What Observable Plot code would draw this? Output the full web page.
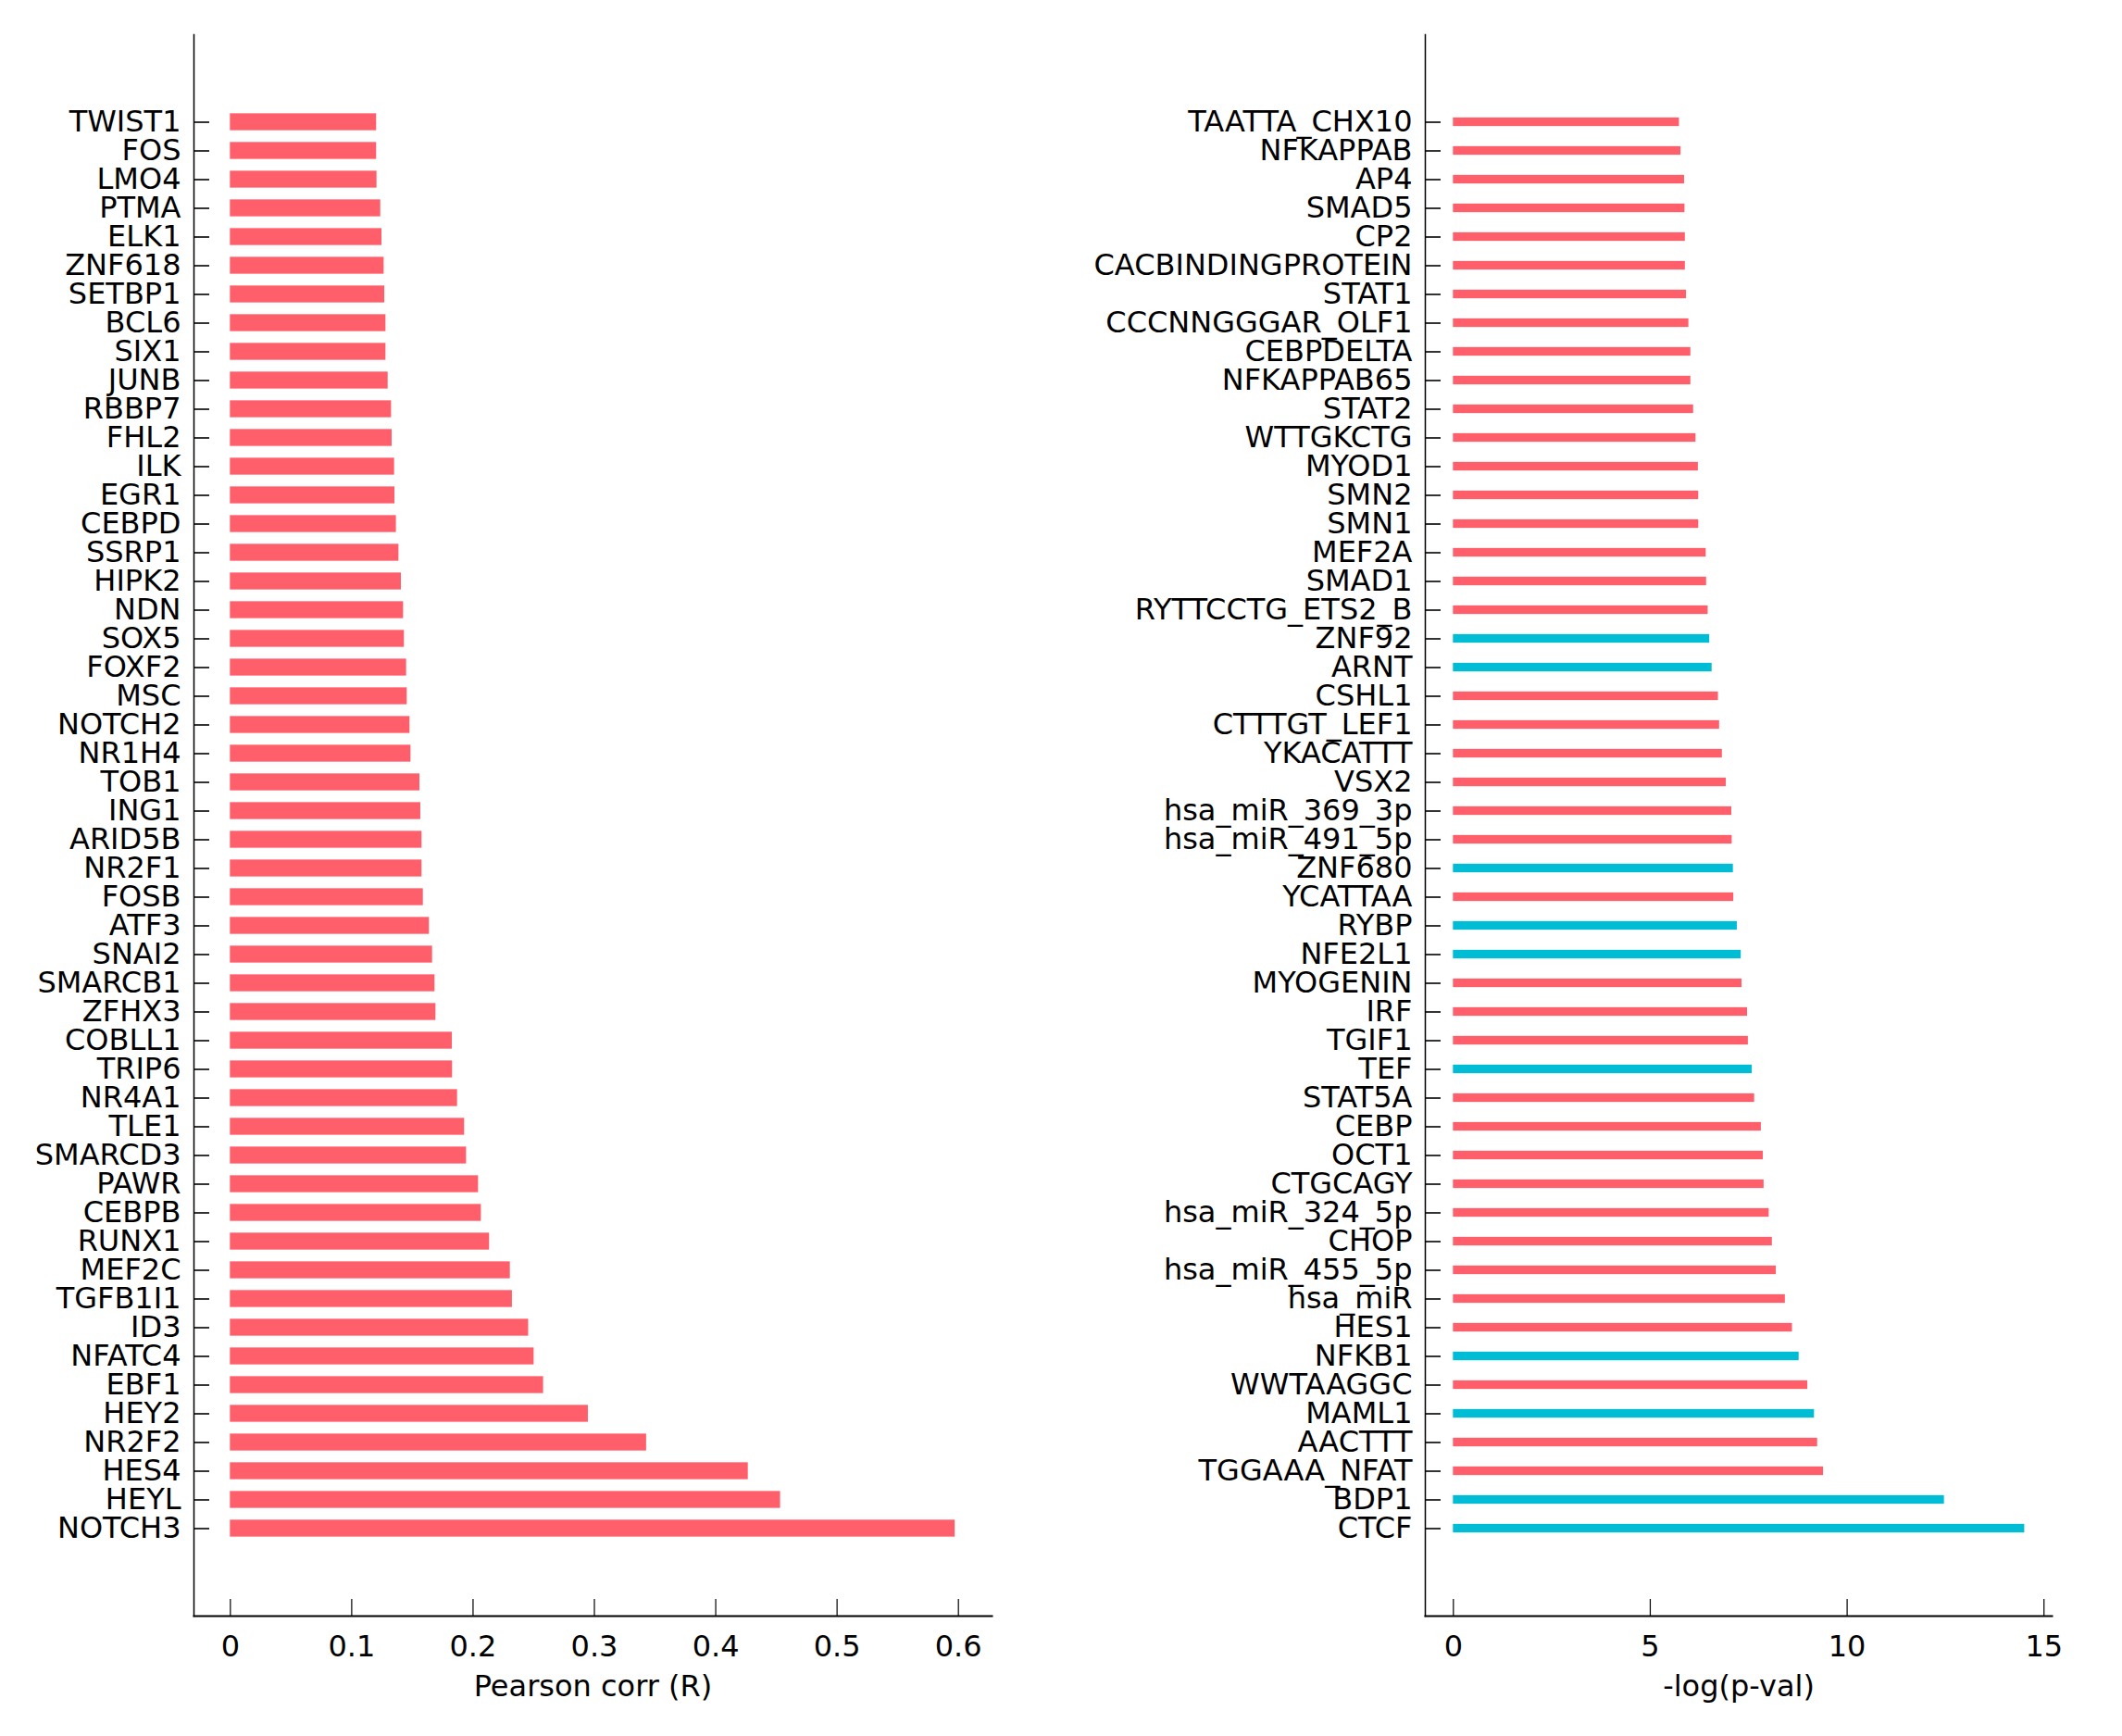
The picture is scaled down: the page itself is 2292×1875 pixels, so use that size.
<!DOCTYPE html>
<html><head><meta charset="utf-8">
<script src="https://cdn.jsdelivr.net/npm/d3@7"></script>
<script src="https://cdn.jsdelivr.net/npm/@observablehq/plot@0.6"></script>
<style>
html,body{margin:0;padding:0;background:#fff;}
#wrap{position:relative;width:2292px;height:1875px;overflow:hidden;}
#wrap svg{position:absolute;top:0;}
</style></head><body><div id="wrap"></div>
<script>
// ---- Left panel data (top to bottom) ----
const leftNames = ["TWIST1","FOS","LMO4","PTMA","ELK1","ZNF618","SETBP1","BCL6","SIX1","JUNB",
  "RBBP7","FHL2","ILK","EGR1","CEBPD","SSRP1","HIPK2","NDN","SOX5","FOXF2",
  "MSC","NOTCH2","NR1H4","TOB1","ING1","ARID5B","NR2F1","FOSB","ATF3","SNAI2",
  "SMARCB1","ZFHX3","COBLL1","TRIP6","NR4A1","TLE1","SMARCD3","PAWR","CEBPB","RUNX1",
  "MEF2C","TGFB1I1","ID3","NFATC4","EBF1","HEY2","NR2F2","HES4","HEYL","NOTCH3"];
const leftValues = [0.1205,0.1205,0.1208,0.1239,0.1249,0.1267,0.1272,0.1282,0.1282,0.1300,
  0.1328,0.1333,0.1353,0.1356,0.1368,0.1389,0.1409,0.1427,0.1434,0.1452,
  0.1457,0.1480,0.1488,0.1562,0.1569,0.1579,0.1579,0.1590,0.1640,0.1666,
  0.1686,0.1694,0.1829,0.1831,0.1872,0.1930,0.1946,0.2045,0.2068,0.2136,
  0.2307,0.2324,0.2458,0.2503,0.2581,0.2950,0.3430,0.4268,0.4534,0.5973];
const leftTicks = [0,0.1,0.2,0.3,0.4,0.5,0.6];
const leftTitle = "Pearson corr (R)";

// ---- Right panel data (top to bottom) ----
const rightNames = ["TAATTA_CHX10","NFKAPPAB","AP4","SMAD5","CP2","CACBINDINGPROTEIN","STAT1","CCCNNGGGAR_OLF1","CEBPDELTA","NFKAPPAB65",
  "STAT2","WTTGKCTG","MYOD1","SMN2","SMN1","MEF2A","SMAD1","RYTTCCTG_ETS2_B","ZNF92","ARNT",
  "CSHL1","CTTTGT_LEF1","YKACATTT","VSX2","hsa_miR_369_3p","hsa_miR_491_5p","ZNF680","YCATTAA","RYBP","NFE2L1",
  "MYOGENIN","IRF","TGIF1","TEF","STAT5A","CEBP","OCT1","CTGCAGY","hsa_miR_324_5p","CHOP",
  "hsa_miR_455_5p","hsa_miR","HES1","NFKB1","WWTAAGGC","MAML1","AACTTT","TGGAAA_NFAT","BDP1","CTCF"];
const rightValues = [5.74,5.78,5.87,5.88,5.89,5.89,5.92,5.98,6.03,6.03,
  6.10,6.16,6.22,6.23,6.23,6.42,6.43,6.47,6.51,6.57,
  6.73,6.76,6.83,6.93,7.07,7.08,7.11,7.12,7.21,7.31,
  7.33,7.47,7.49,7.59,7.65,7.82,7.87,7.89,8.02,8.10,
  8.20,8.43,8.61,8.78,9.00,9.17,9.25,9.40,12.47,14.51];
const rightHighlighted = ["ZNF92","ARNT","ZNF680","RYBP","NFE2L1","TEF","NFKB1","MAML1","BDP1","CTCF"];
const rightTicks = [0,5,10,15];
const rightTitle = "-log(p-val)";

const RED = "#ff5e6b", CYAN = "#00bcd4";

function panel({names, values, kinds, width, marginLeft, marginRight, xDomain, ticks, title, paddingInner, paddingOuter}) {
  const data = names.map((n, i) => ({name: n, value: values[i], kind: kinds[i]}));
  return Plot.plot({
    width, height: 1875,
    marginLeft, marginRight, marginTop: 37, marginBottom: 130,
    style: {fontFamily: "DejaVu Sans", fontSize: "32px", color: "#000", background: "transparent", overflow: "visible"},
    x: {domain: xDomain},
    y: {domain: names, paddingInner, paddingOuter},
    color: {domain: ["base", "hit"], range: [RED, CYAN]},
    marks: [
      Plot.barX(data, {x: "value", y: "name", fill: "kind"}),
      Plot.frame({anchor: "left", stroke: "#000", strokeWidth: 1.5}),
      Plot.frame({anchor: "bottom", stroke: "#000", strokeWidth: 2}),
      Plot.axisY({anchor: "left", tickSize: 17, dx: 17, tickPadding: 14, strokeWidth: 1.6, fontSize: 32, label: null}),
      Plot.axisX({anchor: "bottom", ticks, tickFormat: d3.format("~g"), tickSize: 18, dy: -18, tickPadding: 21, strokeWidth: 1.2, fontSize: 32,
        label: title, labelAnchor: "center", labelArrow: "none", labelOffset: 86})
    ]
  });
}

const wrap = document.getElementById("wrap");
const left = panel({
  names: leftNames, values: leftValues, kinds: leftNames.map(() => "base"),
  width: 1146, marginLeft: 209, marginRight: 75,
  xDomain: [-0.0300, 0.6277], ticks: leftTicks, title: leftTitle,
  paddingInner: 0.41, paddingOuter: 2.7535
});
left.style.left = "0px";
wrap.appendChild(left);

const right = panel({
  names: rightNames, values: rightValues, kinds: rightNames.map(n => rightHighlighted.includes(n) ? "hit" : "base"),
  width: 1146, marginLeft: 393, marginRight: 76,
  xDomain: [-0.713, 15.206], ticks: rightTicks, title: rightTitle,
  paddingInner: 0.7, paddingOuter: 2.8985
});
right.style.left = "1146px";
wrap.appendChild(right);
</script>
</body></html>
